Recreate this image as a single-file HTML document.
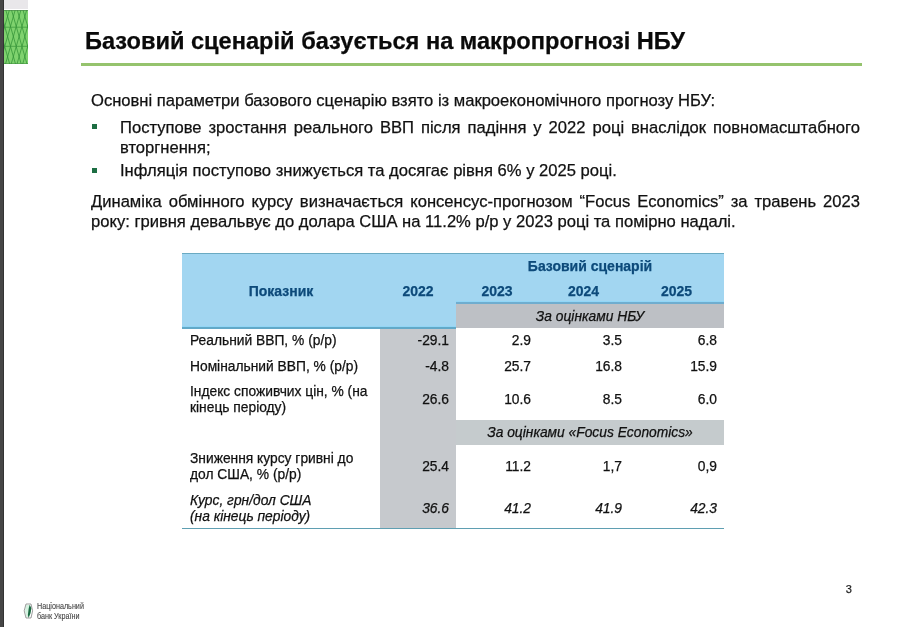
<!DOCTYPE html>
<html><head><meta charset="utf-8">
<style>
*{margin:0;padding:0;box-sizing:border-box}
html,body{width:899px;height:627px;overflow:hidden;background:#fff;font-family:"Liberation Sans",sans-serif;color:#000}
#wrap{position:absolute;left:0;top:0;width:899px;height:627px;will-change:transform;-webkit-text-stroke:0.25px currentColor}
.abs{position:absolute;white-space:nowrap}
#lbar{position:absolute;left:0;top:0;width:4px;height:627px;background:#464646;border-right:1px solid #333}
#gtop{position:absolute;left:4px;top:0;width:24px;height:9px;background:#e9e7ea}
#green{position:absolute;left:4px;top:10px;width:24px;height:54px;background:#7fd26e;overflow:hidden}
#title{left:85px;top:26.3px;font-size:23.6px;font-weight:bold;line-height:30px;color:#0a0a0a}
#rule{position:absolute;left:81px;top:63px;width:781px;height:3px;background:#95c36d}
.p{font-size:16.58px;line-height:20px;color:#111}
.bul{position:absolute;width:5px;height:5px;background:#1d6e43}
table{position:absolute;left:182px;top:253px;border-collapse:collapse;table-layout:fixed;font-size:13.8px;line-height:16px;color:#111}
td{padding:2px 7px 0;vertical-align:middle}
td.h,td.gf{padding:0 7px}
td.c1{padding-left:8px}
.h{background:#a2d6f1;color:#0d4a7a;font-weight:bold;text-align:center;font-size:14px}
.g{background:#c6c9cd}
.gb{background:#bdc0c5}
.gf{background:#c5cbcd}
.r{text-align:right}
.i{font-style:italic}
.ln{position:absolute;height:1px}
.up span{position:relative;top:-1px}
</style></head><body><div id="wrap">
<div id="lbar"></div>
<div id="gtop"></div>
<div id="green">
<svg width="24" height="54" viewBox="0 0 24 54" style="display:block">
<path d="M-67.2 0L-51.8 54M-63.6 0L-79.0 54M-61.5 0L-46.0 54M-57.8 0L-73.3 54M-55.7 0L-40.3 54M-52.1 0L-67.5 54M-50.0 0L-34.5 54M-46.3 0L-61.8 54M-44.2 0L-28.8 54M-40.6 0L-56.0 54M-38.5 0L-23.0 54M-34.8 0L-50.3 54M-32.7 0L-17.3 54M-29.1 0L-44.5 54M-27.0 0L-11.5 54M-23.3 0L-38.8 54M-21.2 0L-5.8 54M-17.6 0L-33.0 54M-15.5 0L-0.0 54M-11.8 0L-27.3 54M-9.7 0L5.7 54M-6.1 0L-21.5 54M-4.0 0L11.5 54M-0.3 0L-15.8 54M1.8 0L17.2 54M5.4 0L-10.0 54M7.5 0L23.0 54M11.2 0L-4.3 54M13.3 0L28.7 54M16.9 0L1.5 54M19.0 0L34.5 54M22.7 0L7.2 54M24.8 0L40.2 54M28.4 0L13.0 54M30.5 0L46.0 54M34.2 0L18.7 54M36.3 0L51.7 54M39.9 0L24.5 54M42.0 0L57.5 54M45.7 0L30.2 54M47.8 0L63.2 54M51.4 0L36.0 54M53.5 0L69.0 54M57.2 0L41.7 54M59.3 0L74.7 54M62.9 0L47.5 54M65.0 0L80.5 54M68.7 0L53.2 54M70.8 0L86.2 54M74.4 0L59.0 54M76.5 0L92.0 54M80.2 0L64.7 54" stroke="#2f9035" stroke-width="0.9" fill="none" opacity="0.8"/>
<path d="M0 17.2H24M0 36.3H24" stroke="#3f9a3f" stroke-width="1" opacity="0.8"/>
<path d="M0 0.5H24" stroke="#4a8a4a" stroke-width="1" opacity="0.7"/><path d="M0 53.5H24" stroke="#3a8a3a" stroke-width="1" opacity="0.5"/>
</svg>
</div>

<div class="abs" id="title">Базовий сценарій базується на макропрогнозі НБУ</div>
<div id="rule"></div>

<div class="abs p" style="left:91px;top:91px">Основні параметри базового сценарію взято із макроекономічного прогнозу НБУ:</div>
<div class="bul" style="left:92px;top:124.4px"></div>
<div class="abs p" style="left:120px;top:118.3px;width:740px;white-space:normal;text-align:justify;text-align-last:left">Поступове зростання реального ВВП після падіння у 2022 році внаслідок повномасштабного вторгнення;</div>
<div class="bul" style="left:92px;top:167.6px"></div>
<div class="abs p" style="left:120px;top:160.5px">Інфляція поступово знижується та досягає рівня 6% у 2025 році.</div>
<div class="abs p" style="left:91px;top:192.2px;width:769px;white-space:normal;text-align:justify;text-align-last:left">Динаміка обмінного курсу визначається консенсус-прогнозом “Focus Economics” за травень 2023 року: гривня девальвує до долара США на 11.2% р/р у 2023 році та помірно надалі.</div>

<table>
<colgroup><col style="width:198px"><col style="width:76px"><col style="width:82px"><col style="width:91px"><col style="width:95px"></colgroup>
<tr style="height:25px"><td class="h" rowspan="3">Показник</td><td class="h" rowspan="3">2022</td><td class="h" colspan="3">Базовий сценарій</td></tr>
<tr style="height:25px"><td class="h">2023</td><td class="h">2024</td><td class="h">2025</td></tr>
<tr style="height:25px"><td class="gb i" colspan="3" style="text-align:center">За оцінками НБУ</td></tr>
<tr style="height:25px" class="up"><td class="c1"><span>Реальний ВВП, % (р/р)</span></td><td class="g r"><span>-29.1</span></td><td class="r"><span>2.9</span></td><td class="r"><span>3.5</span></td><td class="r"><span>6.8</span></td></tr>
<tr style="height:25px"><td class="c1">Номінальний ВВП, % (р/р)</td><td class="g r">-4.8</td><td class="r">25.7</td><td class="r">16.8</td><td class="r">15.9</td></tr>
<tr style="height:42px"><td class="c1">Індекс споживчих цін, % (на<br>кінець періоду)</td><td class="g r">26.6</td><td class="r">10.6</td><td class="r">8.5</td><td class="r">6.0</td></tr>
<tr style="height:25px"><td></td><td class="g"></td><td class="gf i" colspan="3" style="text-align:center">За оцінками «Focus Economics»</td></tr>
<tr style="height:42px"><td class="c1">Зниження курсу гривні до<br>дол США, % (р/р)</td><td class="g r">25.4</td><td class="r">11.2</td><td class="r">1,7</td><td class="r">0,9</td></tr>
<tr style="height:41px" class="i"><td class="c1">Курс, грн/дол США<br>(на кінець періоду)</td><td class="g r">36.6</td><td class="r">41.2</td><td class="r">41.9</td><td class="r">42.3</td></tr>
</table>
<div class="ln" style="left:182px;top:253px;width:542px;background:#6aaac2"></div>
<div class="ln" style="left:456px;top:301px;width:268px;background:#92d6f6"></div>
<div class="ln" style="left:182px;top:326px;width:274px;background:#92d6f6"></div>
<div class="ln" style="left:456px;top:302px;width:268px;height:2px;background:#6fadcf"></div>
<div class="ln" style="left:182px;top:327px;width:274px;height:2px;background:#62a9c8"></div>
<div class="ln" style="left:182px;top:528px;width:542px;background:#5f9fb2"></div>

<div class="abs" style="left:845.7px;top:581.6px;font-size:11px;line-height:14px;color:#222">3</div>

<svg class="abs" style="left:23px;top:603px" width="11" height="16" viewBox="0 0 11 16">
<path d="M3 2H6.5L5.2 14H3.4L2 8Z" fill="#d6f3e2"/>
<path d="M6.6 1.8L8.4 5L7.6 10L5.6 15L4.9 12L5.6 6Z" fill="#1b6b42"/>
<path d="M3 1H8L9.6 7.8L8 15H3L1.2 7.8Z" fill="none" stroke="#6e6e6e" stroke-width="0.8" opacity="0.85"/>
</svg>
<div class="abs" style="left:37px;top:602.2px;font-size:8.4px;line-height:9.6px;color:#444;-webkit-text-stroke:0.1px #444;transform:scaleX(0.86);transform-origin:0 0">Національний<br>банк України</div>
</div></body></html>
